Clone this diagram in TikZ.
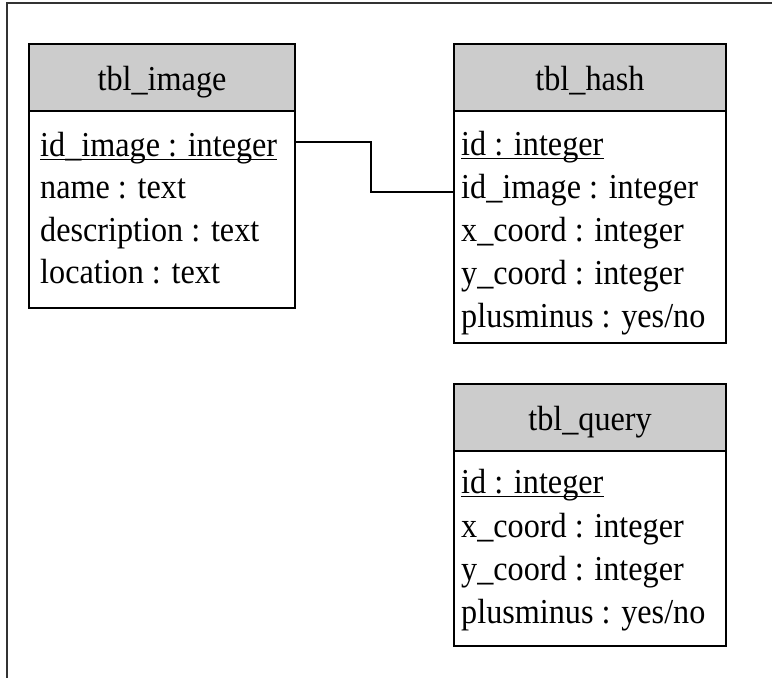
\documentclass[tikz,border=0pt]{standalone}
\usepackage{fontspec}
\setmainfont[FakeStretch=0.92]{Liberation Serif}
\begin{document}
\begin{tikzpicture}[x=1pt,y=-1pt,
  tblhead/.style={draw=black, line width=2pt, fill=gray!40, anchor=north west, inner sep=0pt, text height=26pt, text depth=0pt, font=\fontsize{35}{40}\selectfont},
  tblbody/.style={draw=black, line width=2pt, fill=white, anchor=north west, inner sep=0pt},
  row/.style={anchor=base west, inner sep=0pt, font=\fontsize{35}{40}\selectfont},
  uline/.style={draw=black, line width=1.8pt},
  conn/.style={draw=black, line width=2pt}]
\useasboundingbox (0,0) rectangle (772,678);
\fill[white] (0,0) rectangle (772,678);
% frame
\draw[line width=1.5pt, black!80] (7,678) -- (7,3) -- (772,3);
% tbl_image
\node[tblbody, minimum width=266pt, minimum height=197pt] (imgB) at (28,110) {};
\node[tblhead, minimum width=266pt, minimum height=67pt] (imgH) at (28,43) {tbl\_image};
\node[row] (i1) at (40,156) {id\_image : integer};
\node[row] (i2) at (40,198) {name : text};
\node[row] (i3) at (40,241) {description : text};
\node[row] (i4) at (40,283) {location : text};
\draw[uline] ([yshift=-3.5pt]i1.base west) -- ([yshift=-3.5pt]i1.base east);
% tbl_hash
\node[tblbody, minimum width=272pt, minimum height=232pt] (hashB) at (453,110) {};
\node[tblhead, minimum width=272pt, minimum height=67pt] (hashH) at (453,43) {tbl\_hash};
\node[row] (h1) at (461,155) {id : integer};
\node[row] (h2) at (461,198) {id\_image : integer};
\node[row] (h3) at (461,241) {x\_coord : integer};
\node[row] (h4) at (461,284) {y\_coord : integer};
\node[row] (h5) at (461,327) {plusminus : yes/no};
\draw[uline] ([yshift=-3.5pt]h1.base west) -- ([yshift=-3.5pt]h1.base east);
% tbl_query
\node[tblbody, minimum width=272pt, minimum height=195pt] (qB) at (453,450) {};
\node[tblhead, minimum width=272pt, minimum height=67pt] (qH) at (453,383) {tbl\_query};
\node[row] (q1) at (461,493) {id : integer};
\node[row] (q2) at (461,537) {x\_coord : integer};
\node[row] (q3) at (461,580) {y\_coord : integer};
\node[row] (q4) at (461,623) {plusminus : yes/no};
\draw[uline] ([yshift=-3.5pt]q1.base west) -- ([yshift=-3.5pt]q1.base east);
% connector
\coordinate (k1) at (371,142);
\coordinate (k2) at (371,192);
\draw[conn] (imgB.east |- k1) -- (k1) -- (k2) -- (hashB.west |- k2);
\end{tikzpicture}
\end{document}
